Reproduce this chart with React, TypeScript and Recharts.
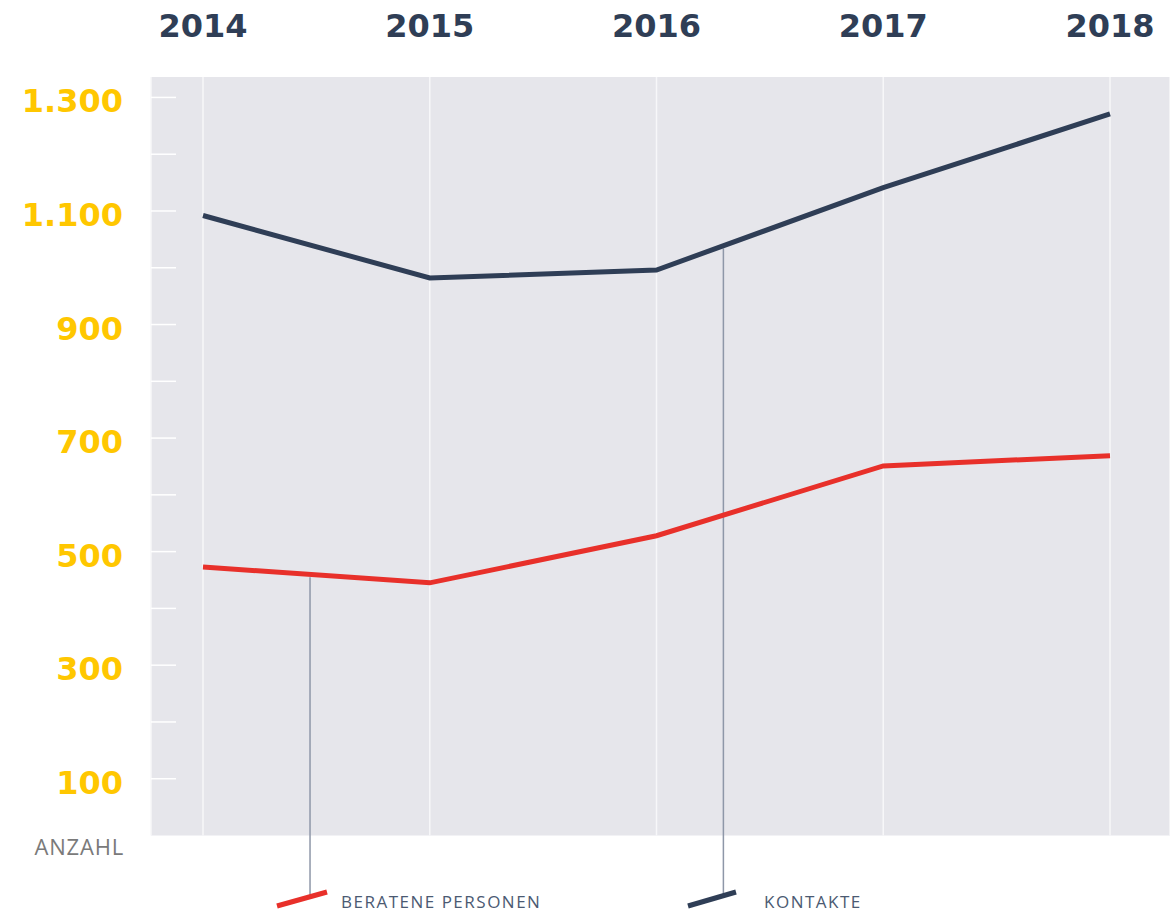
import React from 'react';
import { LineChart, Line, XAxis, YAxis, CartesianGrid, ReferenceLine, Legend } from 'recharts';

const years = [2014, 2015, 2016, 2017, 2018];
const kontakte = [1092, 982, 996, 1141, 1271];
const beratene = [473, 445, 528, 651, 669];
const yTicks = [100, 200, 300, 400, 500, 600, 700, 800, 900, 1000, 1100, 1200, 1300];
const yLabels: Record<number, string> = { 100: '100', 300: '300', 500: '500', 700: '700', 900: '900', 1100: '1.100', 1300: '1.300' };
const seriesNames = ['BERATENE PERSONEN', 'KONTAKTE'];
const axisTitle = 'ANZAHL';
// leader-line anchors (x in years, y in values)
const leaderBeratene = [{ x: 2014.472, y: 455 }, { x: 2014.472, y: -105 }];
const leaderKontakte = [{ x: 2016.295, y: 1034 }, { x: 2016.295, y: -105 }];

const data = years.map((y, i) => ({ year: y, kontakte: kontakte[i], beratene: beratene[i] }));

const RED = '#e8302a';
const NAVY = '#2f3e56';
const YELLOW = '#ffc700';
const BG = '#e6e6eb';
const LEADER = '#8e97a8';

const XTick = (props: any) => {
  const { x, y, payload } = props;
  return (
    <text x={x} y={y - 38} textAnchor="middle" fill={NAVY} fontFamily="DejaVu Sans" fontWeight="bold" fontSize={32}>
      {payload.value}
    </text>
  );
};

const YTick = (props: any) => {
  const { x, y, payload } = props;
  const label = yLabels[payload.value];
  return (
    <g>
      <line x1={x} x2={x + 25} y1={y} y2={y} stroke="#ffffff" strokeWidth={1.5} />
      {label && (
        <text x={x - 28} y={y + 15} textAnchor="end" fill={YELLOW} fontFamily="DejaVu Sans" fontWeight="bold" fontSize={32}>
          {label}
        </text>
      )}
    </g>
  );
};

const AxisTitle = (props: any) => {
  const { viewBox } = props;
  return (
    <text x={viewBox.x + viewBox.width - 27} y={viewBox.y + viewBox.height + 19} textAnchor="end" fill="#7a7a7a" fontFamily="Open Sans" fontSize={22} letterSpacing={0.8}>
      {axisTitle}
    </text>
  );
};

const LegendContent = () => (
  <svg width={1170} height={38} style={{ display: 'block' }}>
    <line x1={277} y1={26} x2={327} y2={12} stroke={RED} strokeWidth={5} />
    <text x={341} y={28} fill="#4b5a72" fontFamily="Open Sans" fontSize={17} letterSpacing={1.5}>{seriesNames[0]}</text>
    <line x1={688} y1={26} x2={736} y2={12} stroke={NAVY} strokeWidth={5} />
    <text x={764} y={28} fill="#4b5a72" fontFamily="Open Sans" fontSize={17} letterSpacing={1.5}>{seriesNames[1]}</text>
  </svg>
);

export default function App() {
  return (
    <div style={{ position: 'absolute', left: 0, top: 0, width: 1170, height: 918, background: '#fff' }}>
      <LineChart width={1170} height={918} data={data} margin={{ top: 0, right: 0, bottom: 82.5, left: 0 }}>
        <CartesianGrid horizontal={false} vertical={true} fill={BG} stroke="#f7f7f9" strokeWidth={1.5} />
        <XAxis
          dataKey="year"
          type="number"
          orientation="top"
          domain={['dataMin', 'dataMax']}
          padding={{ left: 52, right: 60 }}
          ticks={years}
          height={77}
          axisLine={false}
          tickLine={false}
          tickSize={0}
          tick={<XTick />}
          interval={0}
        />
        <YAxis
          type="number"
          domain={[0, 1336]}
          ticks={yTicks}
          width={151}
          axisLine={false}
          tickLine={false}
          tickSize={0}
          tickMargin={0}
          tick={<YTick />}
          interval={0}
          label={<AxisTitle />}
        />
        <ReferenceLine segment={leaderBeratene} stroke={LEADER} strokeWidth={1.5} ifOverflow="visible" />
        <ReferenceLine segment={leaderKontakte} stroke={LEADER} strokeWidth={1.5} ifOverflow="visible" />
        <Line type="linear" dataKey="kontakte" name={seriesNames[1]} stroke={NAVY} strokeWidth={5} dot={false} isAnimationActive={false} />
        <Line type="linear" dataKey="beratene" name={seriesNames[0]} stroke={RED} strokeWidth={5} dot={false} isAnimationActive={false} />
        <Legend
          layout="horizontal"
          verticalAlign="middle"
          align="center"
          content={<LegendContent />}
          wrapperStyle={{ position: 'absolute', left: 0, top: 880, width: 1170, height: 38 }}
        />
      </LineChart>
    </div>
  );
}
